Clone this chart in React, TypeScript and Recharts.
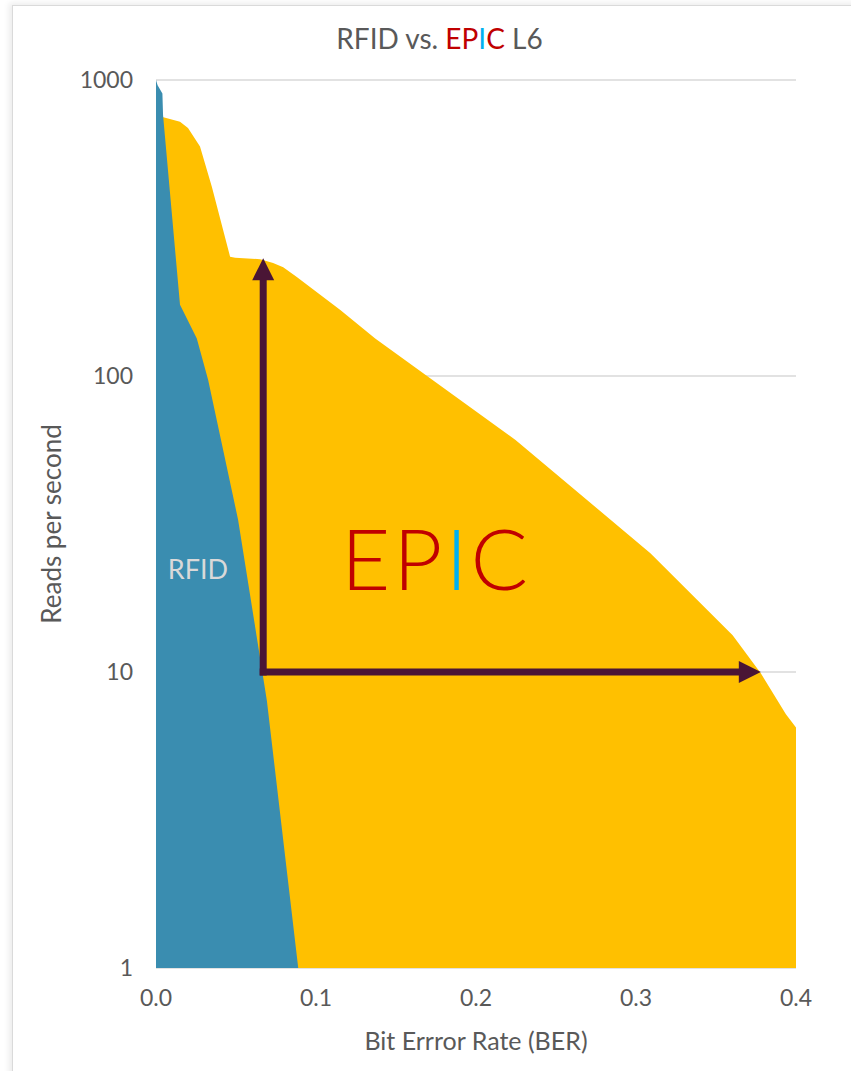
import * as React from 'react';
import {
  ComposedChart,
  Area,
  XAxis,
  YAxis,
  CartesianGrid,
  ReferenceLine,
  Label,
} from 'recharts';

// bit error rate vs reads per second
const rfidBer = [0, 0.001, 0.004, 0.0044, 0.015, 0.0255, 0.0326, 0.0513, 0.0693, 0.0889];
const rfidReads = [1000, 960, 900, 762, 174, 134, 97, 32.7, 8.0, 1];

const epicBer = [0, 0.015, 0.02, 0.0275, 0.0349, 0.0463, 0.0495, 0.0651, 0.0732, 0.0795, 0.088, 0.1152, 0.137, 0.2247, 0.309, 0.3604, 0.378, 0.3937, 0.4];
const epicReads = [760, 723, 689, 596, 436, 253, 251, 248, 241, 233, 216, 167, 134, 60.8, 25.2, 13.3, 9.9, 7.2, 6.5];

const xTicks = [0, 0.1, 0.2, 0.3, 0.4];
const yTicks = [1, 10, 100, 1000];

// the two arrows drawn on the chart (data coordinates)
const arrowCorner = { ber: 0.067, reads: 10 };
const arrowUpTo = 250;
const arrowRightTo = 0.378;

const rfidData = rfidBer.map((b, i) => ({ ber: b, reads: rfidReads[i] }));
const epicData = epicBer.map((b, i) => ({ ber: b, reads: epicReads[i] }));

const FONT = 'Lato, "Open Sans", sans-serif';
const GREY = '#595959';
const ARROW = '#4A1535';

function Arrow(props: any) {
  const { x1, y1, x2, y2 } = props;
  const dx = x2 - x1;
  const dy = y2 - y1;
  const len = Math.sqrt(dx * dx + dy * dy) || 1;
  const ux = dx / len;
  const uy = dy / len;
  const head = 22;
  const half = 11;
  const bx = x2 - ux * head;
  const by = y2 - uy * head;
  const pts = `${x2},${y2} ${bx - uy * half},${by + ux * half} ${bx + uy * half},${by - ux * half}`;
  return (
    <g>
      <line
        x1={x1 - ux * 3.5}
        y1={y1 - uy * 3.5}
        x2={bx + ux * 2}
        y2={by + uy * 2}
        stroke={ARROW}
        strokeWidth={7}
      />
      <polygon points={pts} fill={ARROW} />
    </g>
  );
}

export default function App() {
  return (
    <div style={{ position: 'absolute', left: 0, top: 0, width: 851, height: 1071, background: '#fff', fontFamily: FONT }}>
      <div
        style={{
          position: 'absolute',
          left: 12,
          top: 5,
          width: 851,
          height: 1080,
          borderLeft: '1px solid #DADADA',
          borderTop: '1px solid #DADADA',
          boxShadow: '-3px -2px 6px rgba(0,0,0,0.08)',
        }}
      />
      <div
        style={{
          position: 'absolute',
          left: 0,
          width: 851,
          top: 21,
          textAlign: 'center',
          paddingLeft: 28,
          boxSizing: 'border-box',
          fontSize: 28,
          color: GREY,
        }}
      >
        RFID vs. <span style={{ color: '#C00000' }}>EP</span>
        <span style={{ color: '#00B0F0' }}>I</span>
        <span style={{ color: '#C00000' }}>C</span> L6
      </div>
      <ComposedChart
        width={851}
        height={1071}
        margin={{ top: 80, right: 55, bottom: 43, left: 56 }}
        style={{ position: 'absolute', left: 0, top: 0 }}
      >
        <CartesianGrid horizontal vertical={false} stroke="#D9D9D9" strokeWidth={1.3} />
        <XAxis
          dataKey="ber"
          type="number"
          domain={[0, 0.4]}
          ticks={xTicks}
          tickFormatter={(v: number) => v.toFixed(1)}
          axisLine={false}
          tickLine={false}
          tickSize={0}
          tickMargin={22}
          height={60}
          tick={{ fontFamily: FONT, fontSize: 23, fill: GREY }}
          allowDuplicatedCategory={false}
        >
          <Label
            value="Bit Errror Rate (BER)"
            position="insideBottom"
            offset={-22}
            style={{ fontFamily: FONT, fontSize: 25, fill: GREY }}
          />
        </XAxis>
        <YAxis
          dataKey="reads"
          scale="log"
          domain={[1, 1000]}
          ticks={yTicks}
          allowDataOverflow
          axisLine={false}
          tickLine={false}
          tickSize={0}
          tickMargin={23}
          width={100}
          tick={{ fontFamily: FONT, fontSize: 23, fill: GREY }}
        >
          <Label
            value="Reads per second"
            angle={-90}
            position="insideLeft"
            offset={-4}
            style={{ fontFamily: FONT, fontSize: 26, fill: GREY, textAnchor: 'middle' }}
          />
        </YAxis>
        <Area
          data={epicData}
          dataKey="reads"
          type="linear"
          baseValue={1}
          fill="#FFC000"
          fillOpacity={1}
          stroke="none"
          isAnimationActive={false}
        />
        <Area
          data={rfidData}
          dataKey="reads"
          type="linear"
          baseValue={1}
          fill="#3A8DB0"
          fillOpacity={1}
          stroke="none"
          isAnimationActive={false}
        />
        <ReferenceLine
          segment={[
            { x: arrowCorner.ber, y: arrowCorner.reads },
            { x: arrowCorner.ber, y: arrowUpTo },
          ]}
          shape={Arrow}
        />
        <ReferenceLine
          segment={[
            { x: arrowCorner.ber, y: arrowCorner.reads },
            { x: arrowRightTo, y: arrowCorner.reads },
          ]}
          shape={Arrow}
        />
      </ComposedChart>
      <div style={{ position: 'absolute', left: 158, top: 552, width: 80, textAlign: 'center', fontSize: 27, color: '#D9D9D9' }}>
        RFID
      </div>
      <div
        style={{
          position: 'absolute',
          left: 326,
          top: 507,
          width: 220,
          textAlign: 'center',
          fontSize: 85,
          fontWeight: 300,
          letterSpacing: 3,
          color: '#C00000',
          lineHeight: '100px',
        }}
      >
        EP<span style={{ color: '#00B0F0' }}>I</span>C
      </div>
    </div>
  );
}
